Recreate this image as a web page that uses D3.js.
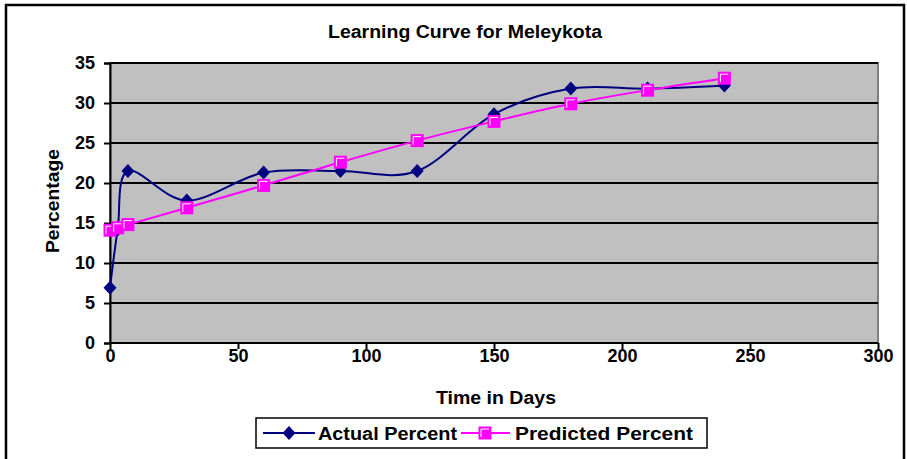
<!DOCTYPE html>
<head>
    <meta charset="UTF-8" />
    <style>
        body { margin: 0; padding: 0; background: #fff; }
        text { font-family: "Liberation Sans", Arial, sans-serif; font-weight: bold; fill: #000; }
    </style>
    <title>Learning Curve for Meleykota</title>
</head>
<svg width="907" height="459"></svg>
<script src="https://d3js.org/d3.v7.min.js"></script>
<script>
    // data
    const days = [0, 3, 7, 30, 60, 90, 120, 150, 180, 210, 240]
    const actualPercent = [6.9, 14.2, 21.5, 17.8, 21.3, 21.5, 21.5, 28.6, 31.8, 31.8, 32.2]
    const predictedPercent = [14.1, 14.4, 14.8, 16.9, 19.7, 22.6, 25.3, 27.7, 29.9, 31.6, 33.1]
    const xTicks = [0, 50, 100, 150, 200, 250, 300]
    const yTicks = [0, 5, 10, 15, 20, 25, 30, 35]
    const seriesNames = ["Actual Percent", "Predicted Percent"]

    const svg = d3.select("svg")
    const plotLeft = 110, plotRight = 878, plotTop = 63, plotBottom = 343

    const x = d3.scaleLinear().domain([0, 300]).range([plotLeft, plotRight])
    const y = d3.scaleLinear().domain([0, 35]).range([plotBottom, plotTop])

    // outer frame
    svg.append("rect")
        .attr("x", 6).attr("y", 5).attr("width", 898).attr("height", 470)
        .attr("fill", "none").attr("stroke", "#000").attr("stroke-width", 2.5)

    // labels: text is drawn a bit wider than Liberation Sans, so stretch with textLength
    function label(px, py, str, len, anchor) {
        return svg.append("text")
            .attr("x", px).attr("y", py)
            .attr("text-anchor", anchor || "middle")
            .attr("textLength", len).attr("lengthAdjust", "spacingAndGlyphs")
            .style("font-size", "18px")
            .text(str)
    }

    label(465, 38, "Learning Curve for Meleykota", 274)

    // plot area
    svg.append("rect")
        .attr("x", plotLeft).attr("y", plotTop).attr("width", plotRight - plotLeft).attr("height", plotBottom - plotTop)
        .attr("fill", "#c0c0c0").attr("stroke", "#808080").attr("stroke-width", 2)

    // gridlines
    svg.append("g").selectAll("line")
        .data(yTicks.filter(d => d > 0))
        .enter().append("line")
        .attr("x1", plotLeft).attr("x2", plotRight)
        .attr("y1", d => y(d)).attr("y2", d => y(d))
        .attr("stroke", "#000").attr("stroke-width", 2)

    const yAxis = svg.append("g")
        .attr("transform", `translate(${plotLeft},0)`)
        .call(d3.axisLeft(y).tickValues(yTicks).tickSize(6).tickPadding(9))
    const xAxis = svg.append("g")
        .attr("transform", `translate(0,${plotBottom})`)
        .call(d3.axisBottom(x).tickValues(xTicks).tickSize(6).tickPadding(0))

    ;[yAxis, xAxis].forEach(g => {
        g.selectAll("path").attr("stroke", "#000").attr("stroke-width", 2)
        g.selectAll("line").attr("stroke", "#000").attr("stroke-width", 2)
        g.selectAll("text").style("font-size", "18px").style("font-weight", "bold")
            .style("font-family", "Liberation Sans, Arial, sans-serif").attr("fill", "#000")
    })
    xAxis.select(".domain").attr("d", `M${plotLeft},0H${plotRight}`)

    label(496, 404, "Time in Days", 120)

    label(0, 0, "Percentage", 104)
        .attr("x", null).attr("y", null)
        .attr("transform", "translate(59,201) rotate(-90)")

    const line = d3.line()
        .x(d => x(d[0]))
        .y(d => y(d[1]))
        .curve(d3.curveCatmullRom.alpha(0))

    const actual = days.map((d, i) => [d, actualPercent[i]])
    const predicted = days.map((d, i) => [d, predictedPercent[i]])

    const navy = "#000080", pink = "#ff00ff"

    function diamond(g, cx, cy) {
        g.append("path")
            .attr("d", `M${cx},${cy - 7}L${cx + 6.5},${cy}L${cx},${cy + 7}L${cx - 6.5},${cy}Z`)
            .attr("fill", navy)
    }
    function square(g, cx, cy) {
        g.append("rect")
            .attr("x", cx - 6.5).attr("y", cy - 6.5).attr("width", 13).attr("height", 13)
            .attr("fill", pink)
        g.append("path")
            .attr("d", `M${cx - 4},${cy + 4}V${cy - 4}H${cx + 4}`)
            .attr("fill", "none").attr("stroke", "#fff").attr("stroke-width", 1)
    }

    svg.append("path").datum(actual)
        .attr("d", line).attr("fill", "none")
        .attr("stroke", navy).attr("stroke-width", 2)
    const am = svg.append("g")
    actual.forEach(d => diamond(am, x(d[0]), y(d[1])))

    svg.append("path").datum(predicted)
        .attr("d", line).attr("fill", "none")
        .attr("stroke", pink).attr("stroke-width", 2)
    const pm = svg.append("g")
    predicted.forEach(d => square(pm, x(d[0]), y(d[1])))

    // legend
    const lg = svg.append("g")
    lg.append("rect")
        .attr("x", 256).attr("y", 418).attr("width", 451).attr("height", 30)
        .attr("fill", "#fff").attr("stroke", "#000").attr("stroke-width", 1.5)
    lg.append("line").attr("x1", 263).attr("x2", 315).attr("y1", 433).attr("y2", 433)
        .attr("stroke", navy).attr("stroke-width", 2)
    diamond(lg, 289, 433)
    lg.append("line").attr("x1", 461).attr("x2", 510).attr("y1", 433).attr("y2", 433)
        .attr("stroke", pink).attr("stroke-width", 2)
    square(lg, 485, 433)
    label(318, 440, seriesNames[0], 139, "start")
    label(515, 440, seriesNames[1], 178, "start")
</script>
